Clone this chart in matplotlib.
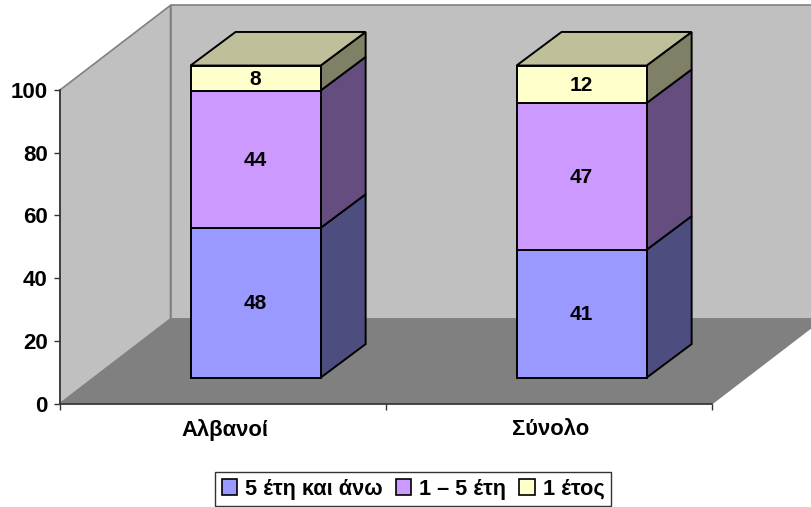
import matplotlib
matplotlib.use('Agg')
import matplotlib.pyplot as plt
from matplotlib.patches import Patch

plt.rcParams['font.family'] = ['Liberation Sans', 'DejaVu Sans']
plt.rcParams['font.weight'] = 'bold'

categories = ['Αλβανοί', 'Σύνολο']
series_names = ['5 έτη και άνω', '1 – 5 έτη', '1 έτος']
five_plus = [48, 41]
one_to_five = [44, 47]
one_year = [8, 12]
series = [five_plus, one_to_five, one_year]
yticks = [0, 20, 40, 60, 80, 100]

front = ['#9999FF', '#CC99FF', '#FFFFCC']
side = ['#4D4D80', '#664D80', '#808066']
top = '#BFBF99'

# 3d look, everything in data units (1 category = 326 px, 100% = 313.7 px)
WALL_DX, WALL_DY = 0.339, 27.0
BAR_DX, BAR_DY = 0.138, 10.7
OFF_X, OFF_Y = 0.1, 8.3
BAR_W = 0.399
SHRINK = 0.995

fig = plt.figure(figsize=(8.11, 5.07), dpi=100)
ax = fig.add_axes([60 / 811, (507 - 403.7) / 507, 652 / 811, 313.7 / 507])
ax.set_xlim(0, 2)
ax.set_ylim(0, 100)
ax.patch.set_visible(False)

# walls and floor
ax.fill([0, WALL_DX, WALL_DX, 0], [0, WALL_DY, 100 + WALL_DY, 100], fc='#C0C0C0',
        ec='#808080', lw=1.2, clip_on=False, zorder=1)
ax.fill([WALL_DX, 2 + WALL_DX, 2 + WALL_DX, WALL_DX], [WALL_DY, WALL_DY, 100 + WALL_DY, 100 + WALL_DY],
        fc='#C0C0C0', ec='#808080', lw=1.2, clip_on=False, zorder=1)
ax.fill([0, 2, 2 + WALL_DX, WALL_DX], [0, 0, WALL_DY, WALL_DY], fc='#808080',
        ec='#808080', lw=1, clip_on=False, zorder=2)

# stacked bars
for i in range(len(categories)):
    x0 = i + 0.5 + OFF_X
    left = x0 - BAR_W / 2
    right = x0 + BAR_W / 2
    base = OFF_Y
    for s, vals in enumerate(series):
        h = vals[i] * SHRINK
        ax.bar(x0, h, BAR_W, bottom=base, color=front[s], edgecolor='black', linewidth=1.4,
               clip_on=False, zorder=4)
        ax.fill([right, right + BAR_DX, right + BAR_DX, right],
                [base, base + BAR_DY, base + h + BAR_DY, base + h],
                fc=side[s], ec='black', lw=1.4, clip_on=False, zorder=3)
        ax.text(x0, base + h / 2 + 0.3, str(vals[i]), ha='center', va='center_baseline', fontsize=15,
                fontweight='bold', color='black', zorder=5)
        base += h
    ax.fill([left, right, right + BAR_DX, left + BAR_DX],
            [base, base, base + BAR_DY, base + BAR_DY],
            fc=top, ec='black', lw=1.4, clip_on=False, zorder=3)

# axes
for name in ['top', 'right']:
    ax.spines[name].set_visible(False)
for name in ['left', 'bottom']:
    ax.spines[name].set_color('#333333')
    ax.spines[name].set_linewidth(1.2)
    ax.spines[name].set_zorder(6)
ax.set_yticks(yticks)
ax.set_xticks([0, 1, 2])
ax.set_xticklabels([])
ax.set_xticks([0.505, 1.505], categories, minor=True, fontweight='bold')
ax.tick_params(axis='y', length=4, width=1, color='#333333', labelsize=16, pad=5)
ax.tick_params(axis='x', which='major', length=4, width=1, color='#333333')
ax.tick_params(axis='x', which='minor', length=0, labelsize=15.8, pad=11)
for lab in ax.get_yticklabels():
    lab.set_fontweight('bold')

handles = [Patch(facecolor=c, edgecolor='black', linewidth=1.2) for c in front]
leg = fig.legend(handles, series_names, ncol=3, loc='center', bbox_to_anchor=(413 / 811, (507 - 489) / 507),
                 prop={'size': 15.7, 'weight': 'bold'}, frameon=True, fancybox=False, edgecolor='#333333',
                 framealpha=1, handlelength=0.72, handleheight=0.72, handletextpad=0.35, columnspacing=0.6,
                 borderpad=0.3, borderaxespad=0)
leg.get_frame().set_linewidth(1)

fig.savefig('out.png', dpi=100)
